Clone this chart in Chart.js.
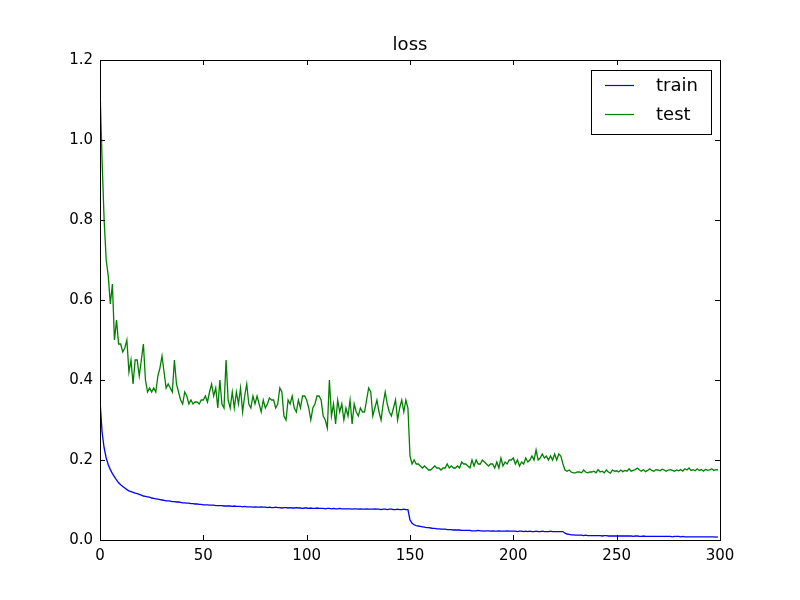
<!DOCTYPE html>
<html>
<head>
<meta charset="utf-8">
<script src="https://cdn.jsdelivr.net/npm/chart.js@4.4.1/dist/chart.umd.min.js"></script>
<style>
  html, body { margin: 0; padding: 0; background: #fff; }
  #wrap { width: 800px; height: 600px; }
</style>
</head>
<body>
<div id="wrap"><canvas id="lossChart" width="800" height="600"></canvas></div>
<script>
const chartTitle = "loss";
const seriesNames = ["train", "test"];
const xTicks = [0, 50, 100, 150, 200, 250, 300];
const yTicks = [0.0, 0.2, 0.4, 0.6, 0.8, 1.0, 1.2];

const trainLoss = [
  0.350,0.270,0.230,0.205,0.188,0.176,0.166,0.158,0.150,0.143,
  0.138,0.134,0.130,0.126,0.123,0.121,0.119,0.117,0.116,0.114,
  0.112,0.110,0.109,0.108,0.107,0.105,0.104,0.103,0.102,0.101,
  0.100,0.099,0.098,0.098,0.097,0.096,0.096,0.095,0.095,0.094,
  0.093,0.093,0.092,0.092,0.091,0.091,0.090,0.090,0.089,0.089,
  0.088,0.088,0.088,0.087,0.087,0.087,0.086,0.086,0.086,0.086,
  0.085,0.085,0.085,0.085,0.084,0.085,0.084,0.084,0.084,0.083,
  0.084,0.083,0.083,0.083,0.082,0.083,0.082,0.082,0.083,0.082,
  0.082,0.081,0.082,0.081,0.081,0.082,0.081,0.081,0.080,0.081,
  0.081,0.080,0.081,0.080,0.080,0.081,0.080,0.080,0.079,0.080,
  0.080,0.079,0.080,0.079,0.079,0.080,0.079,0.079,0.079,0.078,
  0.079,0.079,0.078,0.079,0.078,0.078,0.079,0.078,0.078,0.078,
  0.078,0.078,0.077,0.078,0.078,0.077,0.078,0.077,0.077,0.078,
  0.077,0.077,0.077,0.078,0.077,0.077,0.076,0.077,0.077,0.076,
  0.077,0.077,0.076,0.076,0.077,0.076,0.076,0.077,0.076,0.076,
  0.050,0.042,0.038,0.036,0.035,0.034,0.033,0.032,0.031,0.031,
  0.030,0.029,0.029,0.028,0.028,0.027,0.027,0.027,0.026,0.026,
  0.026,0.025,0.025,0.025,0.025,0.024,0.024,0.024,0.024,0.024,
  0.023,0.023,0.023,0.024,0.023,0.023,0.022,0.023,0.023,0.022,
  0.023,0.022,0.022,0.023,0.022,0.022,0.022,0.023,0.022,0.022,
  0.022,0.022,0.021,0.022,0.022,0.021,0.022,0.021,0.022,0.021,
  0.021,0.022,0.021,0.021,0.022,0.021,0.021,0.021,0.022,0.021,
  0.021,0.021,0.021,0.021,0.021,0.017,0.015,0.014,0.013,0.013,
  0.012,0.012,0.012,0.012,0.011,0.012,0.011,0.011,0.011,0.011,
  0.011,0.011,0.011,0.010,0.011,0.011,0.010,0.010,0.010,0.010,
  0.010,0.010,0.010,0.010,0.010,0.010,0.010,0.010,0.009,0.010,
  0.010,0.009,0.009,0.010,0.009,0.009,0.009,0.009,0.009,0.009,
  0.009,0.009,0.009,0.009,0.009,0.009,0.009,0.008,0.009,0.009,
  0.009,0.008,0.009,0.008,0.008,0.008,0.008,0.008,0.008,0.008,
  0.008,0.008,0.008,0.008,0.008,0.008,0.008,0.008,0.007,0.008
];

const testLoss = [
  1.13,0.95,0.80,0.70,0.66,0.59,0.64,0.50,0.55,0.49,
  0.49,0.47,0.48,0.50,0.42,0.45,0.39,0.45,0.45,0.41,
  0.45,0.49,0.40,0.37,0.38,0.37,0.38,0.37,0.41,0.43,
  0.46,0.42,0.38,0.39,0.38,0.37,0.45,0.39,0.37,0.35,
  0.34,0.37,0.36,0.34,0.35,0.34,0.345,0.345,0.34,0.35,
  0.35,0.36,0.345,0.37,0.39,0.36,0.38,0.33,0.40,0.34,
  0.33,0.45,0.35,0.33,0.37,0.33,0.37,0.34,0.38,0.32,
  0.36,0.39,0.34,0.33,0.36,0.34,0.36,0.34,0.32,0.35,
  0.33,0.34,0.355,0.35,0.35,0.33,0.34,0.38,0.37,0.31,
  0.30,0.35,0.34,0.36,0.33,0.32,0.35,0.33,0.36,0.36,
  0.35,0.33,0.30,0.33,0.34,0.36,0.36,0.35,0.31,0.30,
  0.28,0.40,0.31,0.34,0.29,0.35,0.32,0.34,0.30,0.33,
  0.31,0.35,0.29,0.34,0.32,0.31,0.33,0.32,0.32,0.35,
  0.38,0.37,0.31,0.33,0.35,0.32,0.30,0.34,0.37,0.34,
  0.32,0.31,0.33,0.35,0.30,0.33,0.35,0.32,0.35,0.33,
  0.21,0.19,0.20,0.19,0.19,0.185,0.18,0.185,0.18,0.175,
  0.175,0.18,0.185,0.18,0.18,0.175,0.18,0.18,0.19,0.18,
  0.185,0.18,0.18,0.185,0.18,0.195,0.19,0.19,0.185,0.18,
  0.20,0.185,0.20,0.19,0.19,0.20,0.195,0.19,0.185,0.19,
  0.19,0.18,0.195,0.18,0.205,0.185,0.195,0.19,0.20,0.20,
  0.205,0.19,0.20,0.185,0.195,0.19,0.205,0.195,0.20,0.21,
  0.20,0.225,0.20,0.205,0.215,0.205,0.21,0.20,0.21,0.20,
  0.215,0.20,0.215,0.21,0.19,0.175,0.172,0.175,0.17,0.168,
  0.168,0.17,0.17,0.168,0.175,0.17,0.168,0.17,0.17,0.172,
  0.168,0.176,0.17,0.172,0.168,0.175,0.17,0.167,0.175,0.172,
  0.173,0.17,0.175,0.171,0.174,0.172,0.178,0.172,0.174,0.176,
  0.18,0.175,0.172,0.176,0.171,0.174,0.178,0.174,0.172,0.176,
  0.175,0.173,0.177,0.175,0.172,0.175,0.176,0.174,0.172,0.175,
  0.173,0.176,0.172,0.178,0.175,0.18,0.174,0.176,0.173,0.178,
  0.174,0.176,0.172,0.177,0.174,0.175,0.178,0.174,0.176,0.175
];

// epoch index for each point
const epochs = testLoss.map((_, i) => i);

const FONT = "'DejaVu Sans', sans-serif";

// matplotlib-classic look: title over the axes, frame, inward ticks on all sides, boxed legend
const classicFrame = {
  id: "classicFrame",
  afterDraw(chart) {
    const ctx = chart.ctx;
    const a = chart.chartArea;
    const xs = chart.scales.x;
    const ys = chart.scales.y;
    const len = 5;
    ctx.save();

    ctx.fillStyle = "#000";
    ctx.font = "18px " + FONT;
    ctx.textAlign = "center";
    ctx.textBaseline = "middle";
    ctx.fillText(chartTitle, (a.left + a.right) / 2, a.top - 15);

    ctx.strokeStyle = "#000";
    ctx.lineWidth = 1;
    ctx.beginPath();
    xTicks.forEach(v => {
      const px = Math.round(xs.getPixelForValue(v)) + 0.5;
      ctx.moveTo(px, a.bottom); ctx.lineTo(px, a.bottom - len);
      ctx.moveTo(px, a.top); ctx.lineTo(px, a.top + len);
    });
    yTicks.forEach(v => {
      const py = Math.round(ys.getPixelForValue(v)) + 0.5;
      ctx.moveTo(a.left, py); ctx.lineTo(a.left + len, py);
      ctx.moveTo(a.right, py); ctx.lineTo(a.right - len, py);
    });
    ctx.stroke();
    ctx.strokeRect(Math.round(a.left) + 0.5, Math.round(a.top) + 0.5,
      Math.round(a.right - a.left), Math.round(a.bottom - a.top));

    // legend
    const bx = a.right - 129, by = a.top + 10, bw = 120, bh = 64;
    ctx.fillStyle = "#fff";
    ctx.fillRect(bx, by, bw, bh);
    ctx.strokeRect(bx + 0.5, by + 0.5, bw, bh);
    ctx.textAlign = "left";
    chart.data.datasets.forEach((ds, i) => {
      const ly = by + 15 + i * 29;
      ctx.strokeStyle = ds.borderColor;
      ctx.lineWidth = 1.2;
      ctx.beginPath();
      ctx.moveTo(bx + 14, ly + 0.5);
      ctx.lineTo(bx + 43, ly + 0.5);
      ctx.stroke();
      ctx.fillStyle = "#000";
      ctx.fillText(ds.label, bx + 65, ly + 1);
    });
    ctx.restore();
  }
};

new Chart(document.getElementById("lossChart"), {
  type: "line",
  data: {
    labels: epochs,
    datasets: [
      { label: seriesNames[0], data: trainLoss, borderColor: "#0000ff", borderWidth: 1.3, pointRadius: 0, tension: 0, fill: false },
      { label: seriesNames[1], data: testLoss, borderColor: "#008000", borderWidth: 1.3, pointRadius: 0, tension: 0, fill: false }
    ]
  },
  options: {
    responsive: false,
    animation: false,
    layout: { padding: { left: 0, right: 80, top: 60, bottom: 0 } },
    plugins: {
      legend: { display: false },
      tooltip: { enabled: false },
      title: { display: false }
    },
    scales: {
      x: {
        type: "linear",
        min: 0,
        max: 300,
        afterBuildTicks: s => { s.ticks = xTicks.map(v => ({ value: v })); },
        afterFit: s => { s.height = 60; },
        grid: { display: false, drawTicks: false },
        border: { display: false },
        ticks: { color: "#000", padding: 7, maxRotation: 0, font: { family: FONT, size: 15 } }
      },
      y: {
        min: 0,
        max: 1.2,
        afterBuildTicks: s => { s.ticks = yTicks.map(v => ({ value: v })); },
        afterFit: s => { s.width = 100; },
        grid: { display: false, drawTicks: false },
        border: { display: false },
        ticks: { color: "#000", padding: 7, font: { family: FONT, size: 15 }, callback: v => v.toFixed(1) }
      }
    }
  },
  plugins: [classicFrame]
});
</script>
</body>
</html>
